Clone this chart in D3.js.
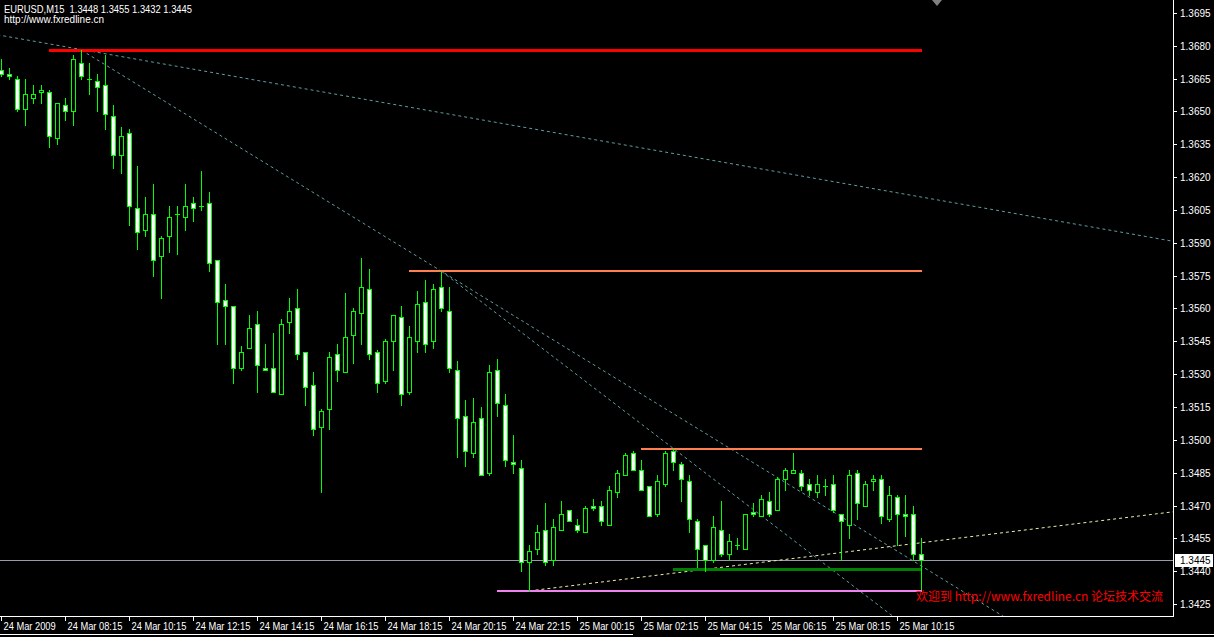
<!DOCTYPE html>
<html><head><meta charset="utf-8">
<script src="https://cdn.jsdelivr.net/npm/d3@7"></script>
<style>html,body{margin:0;padding:0;background:#000;overflow:hidden}svg{display:block}text{white-space:pre}</style>
</head><body><svg id="c" width="1214" height="637"></svg>
<script>
// ---- data (EURUSD M15, 24 Mar 2009 06:15 .. 25 Mar 2009 11:00) ----
const opens  = [1.3669,1.3667,1.3665,1.3651,1.3656,1.3659,1.3659,1.3638,1.3653,1.3650,
1.3672,1.3665,1.3664,1.3662,1.3648,1.3630,1.3640,1.3606,1.3596,1.3603,
1.3584,1.3593,1.3603,1.3602,1.3608,1.3607,1.3608,1.3582,1.3564,1.3561,
1.3533,1.3542,1.3553,1.3533,1.3533,1.3521,1.3554,1.3560,1.3540,1.3525,
1.3506,1.3514,1.3539,1.3531,1.3548,1.3558,1.3569,1.3540,1.3527,1.3545,
1.3556,1.3522,1.3545,1.3563,1.3545,1.3570,1.3559,1.3532,1.3511,1.3494,
1.3510,1.3485,1.3532,1.3516,1.3490,1.3487,1.3444,1.3450,1.3459,1.3445,
1.3459,1.3468,1.3461,1.3458,1.3470,1.3470,1.3461,1.3476,1.3484,1.3494,
1.3486,1.3479,1.3466,1.3480,1.3495,1.3489,1.3481,1.3463,1.3452,1.3445,
1.3459,1.3448,1.3452,1.3450,1.3467,1.3465,1.3472,1.3468,1.3482,1.3485,
1.3485,1.3480,1.3476,1.3479,1.3480,1.3466,1.3461,1.3485,1.3470,1.3481,
1.3482,1.3464,1.3474,1.3466,1.3466,1.3448];
const highs  = [1.3674,1.3670,1.3666,1.3665,1.3662,1.3662,1.3660,1.3654,1.3656,1.3676,
1.3678,1.3672,1.3667,1.3676,1.3653,1.3643,1.3642,1.3625,1.3611,1.3617,
1.3593,1.3607,1.3607,1.3617,1.3611,1.3623,1.3613,1.3582,1.3571,1.3561,
1.3543,1.3557,1.3559,1.3544,1.3549,1.3555,1.3565,1.3569,1.3540,1.3531,
1.3514,1.3540,1.3544,1.3567,1.3560,1.3583,1.3578,1.3541,1.3546,1.3557,
1.3561,1.3552,1.3568,1.3573,1.3571,1.3577,1.3570,1.3536,1.3518,1.3519,
1.3515,1.3534,1.3537,1.3521,1.3502,1.3491,1.3452,1.3461,1.3471,1.3464,
1.3472,1.3468,1.3464,1.3470,1.3473,1.3472,1.3479,1.3486,1.3494,1.3495,
1.3491,1.3479,1.3484,1.3495,1.3496,1.3490,1.3484,1.3464,1.3452,1.3465,
1.3472,1.3457,1.3455,1.3466,1.3471,1.3475,1.3476,1.3483,1.3487,1.3494,
1.3486,1.3482,1.3484,1.3482,1.3484,1.3466,1.3486,1.3486,1.3481,1.3484,
1.3484,1.3479,1.3475,1.3475,1.3470,1.3455];
const lows   = [1.3666,1.3665,1.3650,1.3644,1.3654,1.3654,1.3634,1.3635,1.3646,1.3644,
1.3665,1.3658,1.3650,1.3642,1.3624,1.3622,1.3598,1.3587,1.3593,1.3575,
1.3565,1.3586,1.3585,1.3596,1.3600,1.3605,1.3577,1.3544,1.3544,1.3526,
1.3532,1.3542,1.3522,1.3532,1.3522,1.3521,1.3549,1.3537,1.3516,1.3502,
1.3476,1.3505,1.3527,1.3531,1.3535,1.3544,1.3537,1.3522,1.3526,1.3532,
1.3516,1.3521,1.3540,1.3540,1.3542,1.3559,1.3531,1.3492,1.3488,1.3492,
1.3484,1.3484,1.3511,1.3488,1.3485,1.3440,1.3431,1.3448,1.3443,1.3443,
1.3459,1.3463,1.3458,1.3458,1.3468,1.3461,1.3461,1.3474,1.3484,1.3486,
1.3477,1.3465,1.3465,1.3479,1.3486,1.3472,1.3458,1.3442,1.3440,1.3444,
1.3447,1.3445,1.3450,1.3450,1.3465,1.3465,1.3465,1.3468,1.3477,1.3485,
1.3477,1.3475,1.3474,1.3475,1.3467,1.3445,1.3455,1.3464,1.3470,1.3477,
1.3462,1.3463,1.3452,1.3456,1.3445,1.3432];
const closes = [1.3667,1.3666,1.3651,1.3658,1.3658,1.3660,1.3639,1.3654,1.3650,1.3674,
1.3666,1.3665,1.3661,1.3649,1.3630,1.3639,1.3607,1.3595,1.3603,1.3582,
1.3592,1.3602,1.3603,1.3607,1.3606,1.3607,1.3581,1.3563,1.3561,1.3533,
1.3540,1.3551,1.3534,1.3532,1.3522,1.3553,1.3559,1.3539,1.3524,1.3505,
1.3513,1.3538,1.3532,1.3547,1.3559,1.3570,1.3539,1.3526,1.3545,1.3557,
1.3521,1.3547,1.3562,1.3544,1.3569,1.3560,1.3533,1.3510,1.3495,1.3508,
1.3484,1.3531,1.3517,1.3491,1.3489,1.3444,1.3449,1.3458,1.3444,1.3460,
1.3466,1.3463,1.3459,1.3469,1.3469,1.3463,1.3477,1.3485,1.3493,1.3486,
1.3477,1.3465,1.3481,1.3494,1.3490,1.3482,1.3464,1.3450,1.3445,1.3460,
1.3448,1.3454,1.3452,1.3466,1.3466,1.3473,1.3466,1.3482,1.3486,1.3486,
1.3479,1.3477,1.3480,1.3479,1.3468,1.3463,1.3484,1.3471,1.3480,1.3482,
1.3465,1.3475,1.3466,1.3465,1.3448,1.3445];

const priceTicks = [1.3695,1.3680,1.3665,1.3650,1.3635,1.3620,1.3605,1.3590,1.3575,1.3560,
1.3545,1.3530,1.3515,1.3500,1.3485,1.3470,1.3455,1.3440,1.3425];
const timeTickBars = [0,8,16,24,32,40,48,56,64,72,80,88,96,104,112];
const timeLabels = ["24 Mar 2009","24 Mar 08:15","24 Mar 10:15","24 Mar 12:15","24 Mar 14:15",
"24 Mar 16:15","24 Mar 18:15","24 Mar 20:15","24 Mar 22:15","25 Mar 00:15","25 Mar 02:15",
"25 Mar 04:15","25 Mar 06:15","25 Mar 08:15","25 Mar 10:15"];

// horizontal levels: price, first bar, last bar
const levelPrices = [1.3678,1.3577,1.3496,1.3441,1.3431];
const levelFrom   = [6,51,80,84,62];
const levelTo     = [115,115,115,115,115];
// trend lines (rays to the right): [bar, price] anchors
const trendA = [[-2,1.3686],[10,1.3678],[55,1.3577],[66,1.3431]];
const trendB = [[146,1.3591],[55,1.3577],[84,1.3496],[115,1.3453]];

const bid = 1.3445;
const header1 = "EURUSD,M15  1.3448 1.3455 1.3432 1.3445";
const header2 = "http://www.fxredline.cn";
const footNote = "欢迎到 http://www.fxredline.cn 论坛技术交流";

// ---- styles / layout ----
const levelColors = ["#ff0000","#ff7f50","#ff7f50","#008000","#ee82ee"];
const levelWidths = [3,2,2,3,2];
const trendColors = ["#5f9ea0","#5f9ea0","#5f9ea0","#eeeeaa"];
const plotR = 1173, plotB = 616;
const axisFont = "10px 'Liberation Sans', Arial, sans-serif";

const svg = d3.select("#c");
svg.append("rect").attr("width",1214).attr("height",637).attr("fill","#000");

const x = d3.scaleLinear().domain([0,1]).range([1.5,9.5]);
const y = d3.scaleLinear().domain([1.3425,1.3695]).range([604,13]);
const py = v => Math.round(y(v));

svg.append("clipPath").attr("id","plot").append("rect")
  .attr("x",0).attr("y",0).attr("width",plotR).attr("height",plotB);
const g = svg.append("g").attr("clip-path","url(#plot)");

// bid line
g.append("line").attr("x1",0).attr("x2",plotR)
  .attr("y1",py(bid)+0.5).attr("y2",py(bid)+0.5)
  .attr("stroke","#9a9aa6").attr("stroke-width",1);

// trend lines
trendA.forEach((a,k)=>{
  const b = trendB[k];
  const x1 = x(a[0]), y1 = y(a[1]), x2 = x(b[0]), y2 = y(b[1]);
  const s = (y2-y1)/(x2-x1);
  const xe = plotR + 5;
  g.append("line").attr("x1",x1).attr("y1",y1).attr("x2",xe).attr("y2",y1 + s*(xe-x1))
    .attr("stroke",trendColors[k]).attr("stroke-width",1)
    .attr("stroke-dasharray","3,3");
});

// horizontal levels
levelPrices.forEach((p,k)=>{
  const w = levelWidths[k];
  const yy = py(p) + (w%2 ? 0.5 : 0);
  g.append("line").attr("x1",x(levelFrom[k])-0.5).attr("x2",x(levelTo[k])+0.5)
    .attr("y1",yy).attr("y2",yy)
    .attr("stroke",levelColors[k]).attr("stroke-width",w);
});

// candles
const bars = d3.range(opens.length).map(i=>({i,o:opens[i],h:highs[i],l:lows[i],c:closes[i]}));
const cg = g.append("g");
bars.forEach(d=>{
  const cx = x(d.i);
  cg.append("line").attr("x1",cx).attr("x2",cx)
    .attr("y1",py(d.h)).attr("y2",py(d.l)+1)
    .attr("stroke","#00ff00").attr("stroke-width",1);
  const top = py(Math.max(d.o,d.c)), bot = py(Math.min(d.o,d.c));
  if (bot - top < 1) {
    cg.append("line").attr("x1",cx-2.5).attr("x2",cx+2.5)
      .attr("y1",top+0.5).attr("y2",top+0.5)
      .attr("stroke","#00ff00").attr("stroke-width",1);
  } else {
    cg.append("rect").attr("x",cx-2).attr("y",top+0.5)
      .attr("width",4).attr("height",bot-top)
      .attr("fill", d.c < d.o ? "#ffffff" : "#000000")
      .attr("stroke","#00ff00").attr("stroke-width",1);
  }
});

// frame
svg.append("line").attr("x1",plotR+0.5).attr("x2",plotR+0.5).attr("y1",0).attr("y2",plotB+1)
  .attr("stroke","#fff");
svg.append("line").attr("x1",0).attr("x2",plotR+1).attr("y1",plotB+0.5).attr("y2",plotB+0.5)
  .attr("stroke","#fff");

// right price axis
const yAxis = svg.append("g");
priceTicks.forEach(p=>{
  const yy = py(p)+0.5;
  yAxis.append("line").attr("x1",plotR+1).attr("x2",plotR+4).attr("y1",yy).attr("y2",yy).attr("stroke","#fff");
  yAxis.append("text").attr("x",plotR+7).attr("y",yy).attr("dy","0.35em")
    .attr("fill","#fff").style("font",axisFont)
    .text(d3.format(".4f")(p));
});
// bid label
svg.append("rect").attr("x",plotR+2).attr("y",py(bid)-6).attr("width",38).attr("height",13).attr("fill","#fff");
svg.append("text").attr("x",plotR+7).attr("y",py(bid)+0.5).attr("dy","0.35em")
  .attr("fill","#000").style("font",axisFont)
  .text(d3.format(".4f")(bid));

// bottom time axis
timeTickBars.forEach((b,k)=>{
  const tx = Math.round(x(b)) - 0.5;
  svg.append("line").attr("x1",tx).attr("x2",tx).attr("y1",plotB+1).attr("y2",plotB+5).attr("stroke","#fff");
  const t = svg.append("text").attr("x",tx+2).attr("y",630)
    .attr("fill","#fff").style("font",axisFont)
    .text(timeLabels[k]);
  const w = t.node().getComputedTextLength();
  t.attr("textLength", w*0.93).attr("lengthAdjust","spacingAndGlyphs");
});

// bottom window line
svg.append("line").attr("x1",0).attr("x2",633).attr("y1",634.5).attr("y2",634.5).attr("stroke","#fff");
svg.append("line").attr("x1",720).attr("x2",1214).attr("y1",634.5).attr("y2",634.5).attr("stroke","#fff");

// header
svg.append("text").attr("x",4).attr("y",13).attr("fill","#fff")
  .attr("textLength",188).attr("lengthAdjust","spacingAndGlyphs")
  .style("font","11px 'Liberation Sans', Arial, sans-serif").text(header1);
svg.append("text").attr("x",4).attr("y",23).attr("fill","#fff")
  .style("font","10px 'Liberation Sans', Arial, sans-serif").text(header2);

// chart shift marker
svg.append("path").attr("d","M932,0 L942,0 L937,6 Z").attr("fill","#808080");

// foot note
svg.append("text").attr("x",916).attr("y",601).attr("fill","#ff0000")
  .style("font","12px 'Noto Sans CJK SC', 'Liberation Sans', sans-serif").text(footNote);
</script></body></html>
